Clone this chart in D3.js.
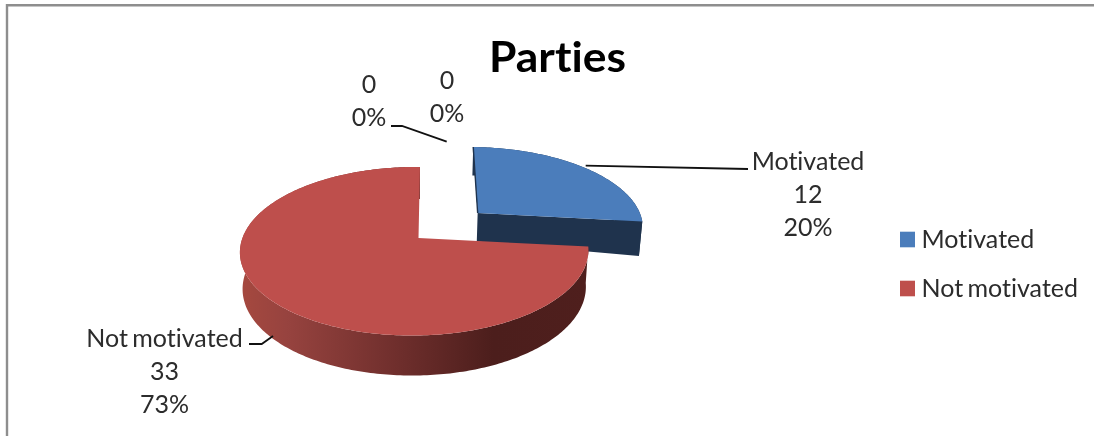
<!DOCTYPE html>
<html><head><meta charset="utf-8">
<script src="https://cdnjs.cloudflare.com/ajax/libs/d3/7.8.5/d3.min.js"></script>
<style>html,body{margin:0;padding:0;background:#fff;overflow:hidden}svg{display:block;filter:blur(0.4px)}text{font-family:Lato,"Noto Sans",sans-serif;font-variant-ligatures:none}</style>
</head><body><svg id="c" width="1094" height="436"></svg>
<script>
const title = "Parties";
const categories = ["Motivated", "Not motivated", "", ""];
const values = [12, 33, 0, 0];
const percentLabels = ["20%", "73%", "0%", "0%"];
const legendItems = ["Motivated", "Not motivated"];
const topColors = ["#4b7dbb", "#be4f4c"];

const svg = d3.select("#c");
const lblSize = 25;
const defs = svg.append("defs");
const grad = defs.append("linearGradient").attr("id","rs").attr("gradientUnits","userSpaceOnUse")
  .attr("x1",245).attr("x2",590).attr("y1",0).attr("y2",0);
[[0,"#a4483f"],[0.12,"#97433f"],[0.45,"#6e2e2c"],[0.72,"#4c1e1c"],[1,"#4f1f1d"]]
  .forEach(s=>grad.append("stop").attr("offset",s[0]).attr("stop-color",s[1]));

// frame
svg.append("path").attr("d","M7 436V5.2H1094").attr("fill","none").attr("stroke","#8e8e8e").attr("stroke-width",2.4);

// ground-plane → screen projection
const cx=418.5, cy=238, R=172, B=82.2, K=0.157, M=0.023;
function project(x,y,sh){const w=1-K*y+M*x;return [cx+(R*x+sh*y)/w, cy+B*y/w];}
const lower=(p,d)=>[cx+(p[0]-cx)*0.985, p[1]+d];
const line=d3.line();

const arcs=d3.pie().sort(null).value(d=>d)(values);
const explode=[0.48,0,0,0];
const radiusScale=[1.03,1,1,1];
const shear=[-4,-1.7,0,0];
const depths=[(x)=>26.3+6*x, (x,y)=>36+4*y];
const sides=["#1f334d","url(#rs)"];

arcs.forEach((a,i)=>{
  if(a.endAngle-a.startAngle<=0) return;
  const mid=(a.startAngle+a.endAngle)/2;
  const ox=explode[i]*Math.sin(mid), oy=-explode[i]*Math.cos(mid);
  const n=Math.ceil((a.endAngle-a.startAngle)*60);
  const g=d3.range(n+1).map(k=>{const t=a.startAngle+(a.endAngle-a.startAngle)*k/n;return [ox+radiusScale[i]*Math.sin(t),oy-radiusScale[i]*Math.cos(t)];});
  const rim=g.map(q=>project(q[0],q[1],shear[i]));
  const bot=g.map((q,k)=>lower(rim[k],depths[i](q[0],q[1])));
  const apex=project(ox,oy,shear[i]);
  // outer wall
  svg.append("path").attr("d",line(rim.concat(bot.slice().reverse()))+"Z").attr("fill",sides[i]);
  if(i===0){
    // cut wall facing the viewer
    const last=rim[rim.length-1];
    const wall=[apex,last,bot[bot.length-1],lower(apex,depths[0](ox,oy))];
    svg.append("path").attr("d",line(wall)+"Z").attr("fill",sides[0]);
  }
  svg.append("path").attr("d",line([apex].concat(rim))+"Z").attr("fill",topColors[i]);
  if(i===0) svg.append("path").attr("d",line([rim[0],apex])).attr("stroke","#1f334d").attr("stroke-width",1.4).attr("fill","none");
});

// leaders
const lead=[[[585.7,165.7],[748,169]],[[391,126],[402,126],[446.7,141.7]],[[249,344],[261.7,344],[273,336]]];
lead.forEach(l=>svg.append("path").attr("d",line(l)).attr("fill","none").attr("stroke","#111").attr("stroke-width",1.8));

// data labels
const labelPos=[[808,169.5],[164.5,346.5],[369,93],[447,89]];
const ls=33;
arcs.forEach((a,i)=>{
  const lines=(categories[i]?[categories[i]]:[]).concat([String(values[i]),percentLabels[i]]);
  lines.forEach((t,j)=>svg.append("text").attr("x",labelPos[i][0]).attr("y",labelPos[i][1]+j*ls)
    .attr("text-anchor","middle").attr("font-size",lblSize).attr("word-spacing",-2).attr("fill","#2c2c2c").text(t));
});

// title
svg.append("text").attr("x",489).attr("y",72).attr("font-size",42).attr("font-weight",700)
  .attr("textLength",137).attr("lengthAdjust","spacingAndGlyphs").attr("fill","#000").text(title);

// legend
const ly=d3.scalePoint().domain(legendItems).range([239.5,288.5]);
legendItems.forEach((t,i)=>{
  svg.append("rect").attr("x",900).attr("y",ly(t)-7.8).attr("width",15).attr("height",15.6).attr("fill",topColors[i]);
  svg.append("text").attr("x",921.5).attr("y",ly(t)+8).attr("font-size",lblSize).attr("word-spacing",-2).attr("fill","#2c2c2c").text(t);
});
</script></body></html>
